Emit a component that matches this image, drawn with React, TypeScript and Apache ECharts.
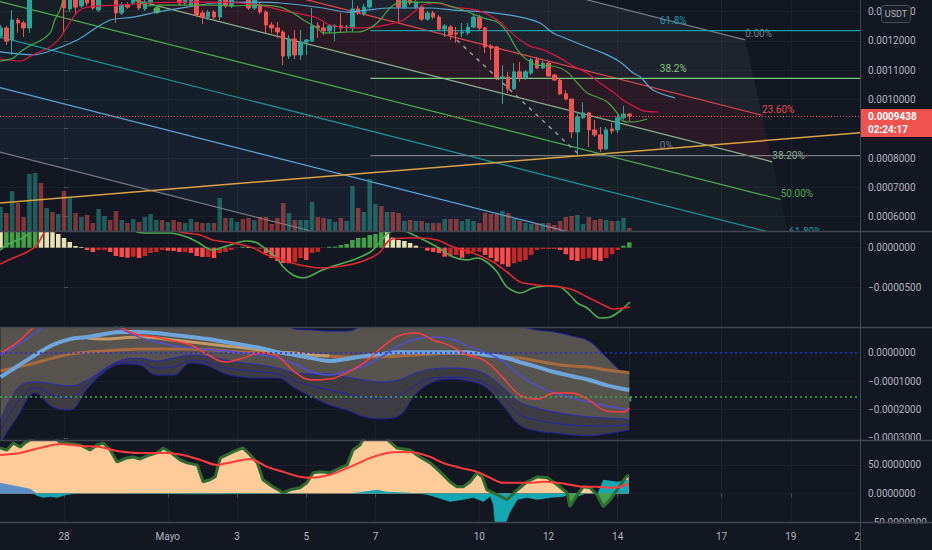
import React, { useEffect, useRef } from 'react';
import * as echarts from 'echarts';

const BG = '#131722';
const TEXT = '#b2b5be';
const GRID_LINE = '#1c202b';
const SEP = '#434651';
const FONT = 'Roboto';

// ---- time axis: 4h bars, index 0 = 28 Apr 00:00 ----
const FIRST_BAR = -11;
const X_MIN = -11.1;
const X_MAX = 138;
const DATE_TICKS = [0, 18, 30, 42, 54, 72, 84, 96, 114, 126, 138];
const DATE_LABELS = ['28', 'Mayo', '3', '5', '7', '10', '12', '14', '17', '19', '21'];

// ---- main pane: prices in 1e-6 USDT ----
const PRICE_TICKS = [600, 700, 800, 900, 1000, 1100, 1200, 1300];
// 0.0009000 sits under the last-price badge and is not visible
const PRICE_LABELS = [600, 700, 800, 1000, 1100, 1200, 1300];
const open = [1216,1244,1203,1271,1261,1244,1380,1421,1401,1442,1428,
  1442,1309,1373,1319,1356,1346,1305,1353,1373,1360,
  1295,1322,1329,1350,1309,1332,1367,1380,1360,1373,
  1353,1329,1322,1350,1295,1281,1298,1281,1353,1319,
  1346,1367,1353,1312,1322,1298,1254,1244,1230,1148,
  1206,1152,1196,1199,1251,1244,1234,1247,1251,1245,
  1244,1309,1292,1315,1356,1380,1360,1373,1353,1315,
  1346,1315,1315,1274,1295,1281,1240,1247,1227,1227,
  1227,1247,1281,1244,1182,1179,1073,1077,1036,1094,
  1073,1090,1135,1107,1124,1083,1066,1019,1001,889,
  937,954,896,879,831,899,896,937,950];
const close = [1244,1199,1271,1261,1244,1373,1421,1401,1442,1428,1455,
  1312,1391,1315,1367,1329,1312,1353,1373,1360,1295,
  1322,1315,1350,1312,1332,1367,1380,1360,1373,1353,
  1329,1346,1350,1288,1281,1298,1281,1346,1319,1346,
  1367,1353,1312,1339,1298,1254,1244,1230,1148,1206,
  1152,1196,1203,1251,1244,1234,1251,1251,1244,1247,
  1309,1295,1315,1356,1380,1360,1373,1353,1315,1339,
  1329,1332,1274,1295,1281,1240,1251,1220,1223,1230,
  1247,1281,1244,1179,1175,1073,1077,1036,1094,1073,
  1094,1135,1107,1124,1080,1066,1019,1001,889,940,
  954,896,879,831,896,892,937,950,943.8];
const low = [1210,1186,1152,1227,1213,1227,1350,1387,1380,1408,1408,
  1230,1298,1288,1312,1319,1305,1298,1343,1346,1261,
  1288,1309,1322,1305,1302,1326,1353,1346,1346,1343,
  1322,1322,1319,1281,1257,1271,1274,1271,1312,1312,
  1343,1343,1305,1305,1292,1227,1227,1210,1117,1138,
  1138,1135,1152,1196,1210,1220,1227,1199,1227,1230,
  1230,1288,1285,1309,1346,1346,1346,1343,1261,1309,
  1322,1309,1268,1268,1274,1234,1213,1203,1193,1213,
  1220,1244,1237,1158,1135,1066,984,1022,1032,1060,
  1066,1083,1104,1104,1077,1063,1015,998,868,810,
  933,838,872,821,827,882,885,930,926];
const high = [1254,1251,1305,1278,1268,1391,1435,1442,1459,1469,1476,
  1462,1408,1391,1380,1367,1356,1367,1387,1387,1367,
  1332,1332,1360,1356,1339,1373,1394,1391,1387,1384,
  1360,1356,1360,1356,1305,1305,1305,1356,1360,1356,
  1380,1380,1360,1350,1332,1305,1264,1264,1237,1220,
  1237,1237,1206,1312,1264,1261,1257,1257,1295,1254,
  1339,1319,1326,1367,1394,1387,1387,1384,1360,1350,
  1353,1339,1322,1302,1302,1288,1257,1254,1247,1261,
  1261,1288,1288,1247,1189,1182,1117,1094,1124,1128,
  1100,1141,1145,1131,1128,1087,1070,1032,1001,957,
  991,957,930,906,906,920,947,978,954];
const volume = [24,18,40,28,14,57,58,48,23,19,17,
  40,34,18,14,16,8,22,15,11,20,
  11,8,12,9,14,17,11,11,9,11,
  9,8,12,9,8,8,8,33,13,13,
  9,12,13,11,14,14,7,13,28,18,
  11,11,11,29,14,13,12,9,13,10,
  45,23,19,52,27,25,19,19,18,10,
  11,10,10,8,8,8,12,12,12,10,
  12,10,8,18,17,17,20,18,12,10,
  8,7,8,8,8,6,10,14,15,16,
  7,14,11,12,11,10,10,13,3];
const VOLUME_MAX = 231;
const LAST_PRICE = close[close.length - 1];
const COUNTDOWN = '02:24:17';
const QUOTE = 'USDT';

// moving averages [bar, price]
const MA_GREEN = [[-11.1,1131],[-8.8,1141],[-7.6,1162],[-5.4,1189],[-4.2,1199],[-2.4,1227],[-1.6,1271],[-0.7,1305],[0.2,1356],[2.8,1408],[6.2,1414],[9.7,1380],[12.3,1339],[14.9,1319],[16.6,1322],[21.0,1322],[26.2,1322],[28.8,1319],[34.0,1322],[37.5,1315],[39.7,1295],[42.1,1264],[43.9,1244],[44.9,1227],[46.6,1227],[49.1,1230],[50.8,1230],[53.1,1244],[54.8,1271],[56.5,1312],[58.3,1332],[61.7,1332],[65.2,1329],[67.5,1315],[69.2,1305],[72.7,1278],[75.1,1264],[76.8,1230],[78.6,1169],[79.9,1141],[82.0,1117],[84.8,1114],[87.2,1094],[89.0,1056],[90.7,1022],[92.4,1008],[94.2,991],[95.9,954],[96.9,926],[98.7,923],[101.1,933]];
const MA_RED = [[-11.1,1138],[-7.6,1131],[-5.4,1152],[-2.4,1179],[-0.7,1210],[0.5,1247],[2.3,1298],[4.0,1315],[6.2,1319],[9.2,1322],[14.9,1329],[20.1,1332],[25.3,1332],[30.5,1329],[34.0,1322],[37.5,1305],[40.9,1292],[43.9,1278],[46.1,1254],[50.8,1244],[53.6,1247],[56.5,1257],[58.8,1271],[60.5,1295],[62.2,1322],[64.3,1329],[67.5,1315],[71.6,1305],[75.1,1271],[78.6,1210],[80.8,1182],[83.1,1169],[86.0,1141],[88.3,1114],[90.7,1090],[92.9,1056],[95.2,1025],[96.9,998],[99.0,974],[100.7,960],[103.0,957]];
const MA_BLUE = [[-11.1,1162],[-5.4,1152],[-1.9,1169],[2.3,1203],[5.0,1237],[8.0,1271],[12.0,1281],[16.1,1298],[21.3,1315],[26.2,1329],[32.3,1332],[37.5,1329],[44.9,1312],[49.1,1298],[52.5,1305],[56.5,1312],[60.5,1312],[63.5,1312],[67.5,1305],[73.3,1298],[79.1,1281],[82.5,1261],[84.8,1227],[87.7,1203],[90.7,1179],[93.5,1158],[96.4,1128],[98.7,1090],[99.9,1077],[102.1,1032],[105.9,1005]];
const SIGNAL_DOT = [[16.1, 1305]];

// drawings
const TREND_ORANGE = [[-12, 645], [138, 886]];
const TREND_DASHED = [[68.1, 1203], [89.0, 817]];
const CH_LEVELS = [0, 0.236, 0.382, 0.5, 0.618, 0.786, 1];
const CH_LABELS = ['0.00%', '23.60%', '38.20%', '50.00%', '61.80%', '78.60%', '100.00%'];
const CH_COLORS = ['#787b86', '#e5474f', '#8fb48f', '#4caf50', '#1a9ba5', '#5aa9e0', '#787b86'];
const CH_FILLS = ['rgba(120,123,134,0.12)', 'rgba(242,54,69,0.10)', 'rgba(129,199,132,0.05)', 'rgba(76,175,80,0.06)', 'rgba(26,155,165,0.07)', 'rgba(100,150,230,0.07)'];
const CH_TOP = [[-12, 1852.5], [118.1, 1203]];
const CH_BOTTOM = [[-12, 824.5], [130.4, 113.9]];
const FIB_LEVELS = [0, 0.382, 0.618];
const FIB_LABELS = ['0%', '38.2%', '61.8%'];
const FIB_COLORS = ['#787b86', '#81c784', '#1a9ba5'];
const FIB_LOW = 808;
const FIB_HIGH = 1499;
const FIB_START = 53.1;
const FIB_END = 138;
const FIB_LABEL_AT = 103.3;

// ---- MACD pane: 1e-6 ----
const MACD_TICKS = [0, -50];
const MACD_HIST = [21,22,24,26,28,30,31,29,26,23,17.1,
  12.1,7.1,2.1,0.9,-2.9,-5.4,-2.9,-2.9,-5.4,-10.4,
  -11.6,-12.5,-11.25,-12.9,-10.4,-6.6,-5.4,-2.9,-3.75,-4.1,
  -5.4,-5.4,-6.6,-10.4,-11.6,-11.6,-12.9,-6.6,-5.4,-2.9,
  -0.4,1.25,0.9,-0.4,-1.0,-6.6,-12.9,-16.6,-19.1,-19.5,
  -17.9,-12.9,-15.4,-6.6,-5.4,-0.4,1.25,1.4,3.4,4.6,
  9.6,12.1,12.5,15.9,17.1,21,20,12.5,9.6,8.4,
  5.9,2.5,-0.4,-3.75,-5.4,-6.6,-11.25,-11.25,-9.1,-12.5,
  -7.9,-5,-5,-9.1,-12.9,-17.5,-20.75,-23.75,-19.5,-17.5,
  -15.4,-9.1,-2.9,-1.6,-1.6,-1.6,-2.9,-8.25,-15.4,-16.6,
  -14.1,-13.25,-15.4,-16.6,-12.9,-8.25,-2.9,2.5,6.75];
const MACD_LINE = [[-11.1,-2.9],[-9.9,3.4],[-8.1,9.6],[-6.8,13.4],[-5.9,19.6],[-5.0,24.6],[-2.4,34.6],[1.0,40.9],[4.5,42.1],[8.0,37.1],[10.6,27.1],[12.7,19.6],[14.9,18.4],[18.4,18.4],[21.3,13.4],[23.1,7.1],[24.8,-0.4],[25.8,-2.9],[27.1,-0.4],[28.8,3.4],[30.5,7.1],[31.7,8.4],[33.5,5.9],[35.2,-2.9],[36.9,-12.9],[38.0,-24.1],[39.7,-34.1],[41.4,-37.9],[42.7,-35.4],[44.4,-29.1],[47.3,-21.6],[50.1,-15.4],[53.1,-5.4],[54.8,7.1],[56.0,17.1],[57.7,22.1],[59.1,20.9],[61.7,12.1],[64.7,0.9],[67.5,-11.6],[69.9,-15.4],[71.6,-12.9],[73.3,-17.9],[75.1,-30.4],[76.8,-49.1],[79.1,-56.6],[81.3,-50.4],[83.8,-47.9],[86.0,-49.1],[87.7,-59.1],[89.0,-69.1],[90.7,-75.4],[92.9,-87.9],[94.7,-86.6],[96.4,-79.1],[98.1,-67.9]];
const MACD_SIGNAL = [[-11.1,-20.4],[-8.8,-12.9],[-6.4,-5.4],[-4.7,3.4],[-3.3,19.6],[-0.7,32.1],[2.8,42.1],[6.2,47.1],[9.7,44.6],[13.2,37.1],[16.6,28.4],[20.1,19.6],[23.6,15.9],[25.8,9.6],[29.3,5.9],[32.8,-0.4],[35.2,-9.1],[38.0,-15.4],[40.9,-21.6],[44.4,-25.4],[50.1,-20.4],[53.1,-12.9],[54.8,-5.4],[56.5,9.6],[59.5,12.1],[61.7,12.1],[64.7,9.6],[67.5,0.9],[70.9,-6.6],[74.4,-17.9],[76.8,-30.4],[79.1,-42.9],[82.0,-46.6],[86.0,-49.1],[88.3,-52.9],[90.7,-61.6],[94.2,-74.1],[95.2,-76.6],[98.1,-74.1]];

// ---- oscillator bands pane: 1e-5 ----
const OSC_TICKS = [0, -10, -20, -30];
const OSC_IDX = [-11,-8,-5,-2,1,4,7,10,13,16,19,22,25,28,31,34,37,40,43,46,49,52,55,58,61,64,67,70,73,76,79,82,85,88,91,94,97,98];
const OSC_LOWER_OUTER = [-31.5,-22.3,-14.2,-19.1,-20.2,-12.8,-6.8,-4.0,-4.3,-7.9,-7.9,-3.6,-4.7,-7.5,-8.6,-8.9,-8.9,-12.4,-15.6,-18.4,-20.2,-22.6,-23.3,-22.3,-14.5,-10.3,-9.3,-10.0,-12.1,-18.4,-25.5,-27.6,-28.3,-29.0,-29.3,-28.6,-27.6,-27.2];
const OSC_LOWER_MID = [-27.2,-17.4,-12.4,-14.9,-15.9,-11.4,-6.1,-3.3,-3.3,-5.4,-5.0,-2.6,-3.3,-5.4,-6.1,-6.8,-7.5,-10.0,-11.7,-13.1,-14.5,-15.6,-15.9,-15.2,-11.4,-8.9,-8.6,-8.9,-10.7,-15.2,-21.9,-23.7,-24.8,-25.5,-25.8,-25.8,-25.5,-25.5];
const OSC_LOWER_INNER = [-23.7,-12.4,-10.3,-11.0,-11.7,-9.6,-5.7,-2.6,-1.9,-2.9,-1.9,-0.8,-1.5,-2.6,-3.6,-4.3,-5.4,-7.1,-7.5,-7.5,-8.6,-9.6,-10.3,-9.6,-7.1,-5.7,-5.4,-5.7,-7.5,-12.1,-17.4,-19.5,-20.9,-21.9,-22.6,-23.0,-23.3,-23.7];
const OSC_UPPER_OUTER = [11.5,11.5,11.5,11.5,11.5,11.5,11.5,11.5,11.5,11.5,11.5,11.5,11.5,11.5,11.5,11.5,11.5,8.3,8.0,7.6,7.6,9.7,11.5,11.5,11.5,11.5,11.5,11.5,11.5,11.5,9.4,8.0,7.3,5.9,4.1,-1.5,-6.8,-7.1];
const OSC_BASIS = [-8.6,-4.7,-0.8,2.7,4.8,5.5,6.6,7.3,7.3,6.9,6.2,5.5,4.8,3.8,2.7,1.7,0.2,-0.8,-1.9,-2.9,-2.2,-1.2,-0.5,0.2,0.2,0.2,0.2,0.2,-0.8,-1.5,-3.3,-5.0,-6.8,-8.2,-9.6,-11.4,-12.8,-13.1];
const OSC_SLOW = [-6.4,-5.0,-3.6,-1.9,-0.5,0.2,0.6,1.0,1.3,1.3,1.3,1.3,1.0,0.6,0.2,0.2,-0.1,-0.5,-0.8,-1.2,-1.5,-1.5,-1.5,-1.2,-0.8,-0.5,-0.1,-0.5,-0.8,-1.5,-1.9,-2.9,-4.0,-4.7,-5.0,-6.1,-6.8,-7.1];
const OSC_FAST = [-0.1,3.8,9.4,13.3,15.0,15.0,13.3,8.7,6.2,5.5,4.1,2.7,-0.8,-3.3,-1.9,-0.1,-1.2,-6.8,-9.6,-9.3,-7.1,-3.6,1.7,5.9,6.9,4.5,2.4,-0.8,-2.9,-8.6,-14.9,-16.3,-14.2,-14.2,-16.7,-20.5,-20.9,-19.5];
const OSC_MIDLINE = [-0.8,2.7,6.9,10.8,12.9,13.3,11.5,8.3,5.5,3.8,2.4,1.7,1.0,0.6,-0.1,-0.8,-1.9,-4.0,-6.8,-7.9,-6.4,-4.7,-1.5,2.4,4.8,5.5,4.8,2.4,0.2,-2.9,-7.9,-11.7,-14.2,-15.9,-17.4,-18.8,-19.8,-20.2];
const TAN_IDX = [4,7,10,13,16,19,22,25,28,31,34,37,40,43,46];
const OSC_TAN = [5.2,4.8,5.2,5.5,5.2,4.5,3.8,3.1,2.4,1.7,1.0,0.2,-0.1,-0.8,-1.2];
const OSC_BARS = [0.2,2.0,5.2,6.9,7.3,10.8,12.2,13.6,15.0,15.7,16.4,
  16.4,15.7,14.3,12.2,9.7,8.0,8.0,8.0,8.0,8.3,
  8.3,4.5,3.8,3.8,3.4,3.8,3.8,4.1,3.8,3.4,
  3.4,1.7,1.0,-0.1,-1.9,-3.3,-4.3,-4.3,-4.3,-2.9,
  -1.5,-0.1,-0.1,-0.8,-0.8,-0.1,-2.2,-4.3,-6.4,-8.9,
  -10.0,-10.7,-12.1,-11.0,-9.3,-8.2,-6.8,-5.4,-5.0,-4.3,
  -2.9,-1.9,-0.5,1.3,3.4,5.2,7.3,8.0,7.6,6.9,
  5.5,4.1,3.4,3.1,2.0,1.7,0.6,-1.2,-2.2,-2.9,
  -2.9,-3.3,-3.3,-3.6,-4.3,-6.1,-9.3,-13.1,-15.9,-16.7,
  -17.4,-16.7,-15.6,-13.8,-12.8,-12.4,-12.4,-13.8,-15.9,-18.4,
  -19.5,-20.9,-21.9,-21.9,-21.6,-21.2,-20.9,-19.1,-16.3];
const OSC_ZERO = 0;
const OSC_GREEN_LEVEL = -15.6;

// ---- momentum pane ----
const MOM_TICKS = [50, 0, -50];
const MOM_MAIN = [[-11.1,79.6],[-9.9,76.1],[-8.8,88.3],[-7.6,81.3],[-6.8,88.3],[-5.9,93.5],[-4.2,102.3],[-2.4,104],[-0.7,90.1],[0.5,88.3],[2.8,84.8],[4.5,76.1],[5.7,84.8],[6.8,88.3],[8.0,76.1],[9.2,55.2],[10.9,62.2],[12.0,63.9],[13.2,60.4],[14.4,65.7],[16.1,70.9],[17.2,79.6],[18.4,72.6],[20.1,58.7],[21.3,53.5],[23.1,50.0],[24.1,20.4],[25.3,23.9],[26.2,29.1],[27.1,62.2],[29.3,72.6],[31.0,79.6],[32.3,67.4],[33.5,53.5],[34.5,23.9],[36.2,11.7],[38.0,1.2],[39.2,6.4],[40.9,9.9],[42.1,18.6],[43.2,36.1],[44.4,37.8],[46.1,36.1],[47.9,44.8],[49.1,50.0],[50.1,76.1],[51.3,84.8],[52.2,100.5],[53.9,105.7],[55.7,100.5],[56.5,90.1],[57.7,79.6],[60.0,76.1],[61.7,63.9],[63.5,53.5],[65.2,37.8],[66.9,20.4],[68.1,11.7],[69.2,11.7],[70.4,20.4],[71.6,36.1],[72.5,29.1],[73.3,6.4],[75.1,-2.3],[76.8,-11.0],[78.6,6.4],[80.3,20.4],[82.0,29.1],[83.8,27.3],[85.5,15.2],[87.2,1.2],[87.7,-23.2],[89.0,-2.3],[90.0,11.7],[91.2,9.9],[92.4,-2.3],[93.5,-23.2],[94.7,-11.0],[95.9,6.4],[97.3,27.3],[97.9,32.6]];
const MOM_TEAL = [[-5.4,0],[-4.7,-4.0],[-3.6,-7.5],[-2.4,-5.7],[-1.2,-7.5],[0.5,-2.3],[2.3,-0.5],[4.0,-0.5],[9.7,-0.5],[23.6,-1.4],[40.9,-0.5],[49.6,0],[54.3,6.4],[56.0,3.0],[60.0,1.2],[63.0,-2.3],[64.7,-7.5],[66.9,-14.5],[69.2,-11.0],[70.9,-7.5],[72.7,-14.5],[73.9,-5.7],[74.4,-19.7],[74.7,-54.5],[75.6,-54.5],[76.5,-54.5],[77.3,-33.6],[78.6,-11.0],[80.3,-7.5],[82.0,-11.0],[84.3,-7.5],[86.5,-5.7],[87.7,-2.3],[89.0,-5.7],[90.7,1.2],[92.4,-2.3],[93.5,23.9],[95.9,20.4],[97.6,23.9],[97.9,23.9]];
const MOM_BLUE = [[-11.1,18.6],[-9.4,15.2],[-7.6,11.7],[-5.9,8.2],[-4.7,0]];
const MOM_DIP_A = [[87.25,0],[87.7,-23.2],[89.0,-2.3],[89.2,0]];
const MOM_DIP_B = [[92.3,0],[92.4,-2.3],[93.5,-23.2],[94.7,-11.0],[95.5,0]];
const MOM_SIGNAL = [[-11.1,67.4],[-7.6,70.9],[-4.2,79.6],[-0.7,86.6],[2.8,83.1],[6.2,81.3],[9.2,74.4],[13.2,70.9],[17.9,70.9],[21.3,65.7],[23.6,58.7],[26.5,50.0],[29.3,55.2],[32.3,60.4],[35.2,46.5],[38.0,37.8],[40.9,29.1],[42.7,27.3],[46.1,32.6],[49.6,46.5],[53.1,62.2],[56.0,70.9],[58.8,72.6],[61.2,70.9],[63.5,63.9],[65.7,53.5],[68.7,44.8],[71.6,37.8],[73.9,27.3],[76.1,18.6],[78.6,18.6],[80.8,18.6],[83.1,20.4],[85.5,18.6],[87.7,15.2],[90.0,11.7],[92.4,11.7],[94.7,9.9],[96.4,11.7],[97.9,16.9]];

const fmtScaled = (v: number, scale: number) => {
  const s = (v * scale).toFixed(7);
  return s.charAt(0) === '-' ? '\u2212' + s.slice(1) : s;
};

const lerp = (a: number, b: number, t: number) => a + (b - a) * t;
const chStart = (lv: number) => [lerp(CH_TOP[0][0], CH_BOTTOM[0][0], lv), lerp(CH_TOP[0][1], CH_BOTTOM[0][1], lv)];
const chEnd = (lv: number) => [lerp(CH_TOP[1][0], CH_BOTTOM[1][0], lv), lerp(CH_TOP[1][1], CH_BOTTOM[1][1], lv)];

function xAxis(gi: number, labels: boolean) {
  return {
    type: 'value', gridIndex: gi, min: X_MIN, max: X_MAX,
    axisLine: { show: false },
    axisTick: { show: labels, customValues: DATE_TICKS, length: 4, lineStyle: { color: '#4a4e59' } },
    axisLabel: {
      show: labels, customValues: DATE_TICKS, color: TEXT, fontSize: 10, fontFamily: FONT, margin: 9,
      formatter: (v: number) => { const k = DATE_TICKS.indexOf(Math.round(v)); return k >= 0 ? DATE_LABELS[k] : ''; },
    },
    splitLine: { show: true, lineStyle: { color: GRID_LINE, width: 1 } },
  };
}

function yAxis(gi: number, min: number, max: number, ticks: number[], scale: number, labelValues?: number[]) {
  return {
    type: 'value', gridIndex: gi, position: 'right', min, max,
    axisLine: { show: false },
    axisTick: { show: true, customValues: ticks, length: 4, lineStyle: { color: '#4a4e59' } },
    axisLabel: { customValues: labelValues || ticks, color: TEXT, fontSize: 10, fontFamily: FONT, margin: 8, formatter: (v: number) => fmtScaled(v, scale) },
    splitLine: { show: true, lineStyle: { color: GRID_LINE, width: 1 } },
  };
}

function lineSeries(xi: number, yi: number, data: any[], color: string, width: number, extra: any = {}) {
  return {
    type: 'line', xAxisIndex: xi, yAxisIndex: yi, data, showSymbol: false, silent: true,
    lineStyle: { color, width }, ...extra,
  };
}

function buildOption() {
  const bars = open.map((o, k) => [FIRST_BAR + k, o, close[k], low[k], high[k]]);
  const vols = volume.map((v, k) => ({
    value: [FIRST_BAR + k, v],
    itemStyle: { color: close[k] >= open[k] ? 'rgba(38,166,154,0.5)' : 'rgba(239,83,80,0.5)' },
  }));
  const hist = MACD_HIST.map((v, k) => {
    const prev = k > 0 ? MACD_HIST[k - 1] : v + 1;
    let c;
    if (v >= 0) c = v >= prev ? '#43a047' : '#e6e2b4';
    else c = v < prev ? '#ff4a4a' : '#c62828';
    return { value: [FIRST_BAR + k, v], itemStyle: { color: c } };
  });
  const oscBars = OSC_BARS.map((v, k) => {
    const prev = k > 0 ? OSC_BARS[k - 1] : v;
    return { value: [FIRST_BAR + k, v], itemStyle: { color: v >= prev ? '#46c35c' : '#ff4545' } };
  });
  const osc = (arr: number[]) => OSC_IDX.map((i, k) => [i, arr[k]]);

  const channelSeries = {
    type: 'custom', xAxisIndex: 0, yAxisIndex: 0, clip: true, silent: true,
    data: CH_LEVELS.map((lv, k) => [k, lv]),
    renderItem: (params: any, api: any) => {
      const k = params.dataIndex;
      const lv = CH_LEVELS[k];
      const S = api.coord(chStart(lv));
      const E = api.coord(chEnd(lv));
      const children: any[] = [];
      if (k < CH_LEVELS.length - 1) {
        const lv2 = CH_LEVELS[k + 1];
        const S2 = api.coord(chStart(lv2));
        const E2 = api.coord(chEnd(lv2));
        children.push({ type: 'polygon', shape: { points: [S, E, E2, S2] }, style: { fill: CH_FILLS[k] } });
      }
      children.push({ type: 'line', shape: { x1: S[0], y1: S[1], x2: E[0], y2: E[1] }, style: { stroke: CH_COLORS[k], lineWidth: 1.2 } });
      children.push({ type: 'text', x: E[0], y: E[1] - 6, style: { text: CH_LABELS[k], fill: CH_COLORS[k], font: `10px ${FONT}`, align: 'left', verticalAlign: 'middle' } });
      return { type: 'group', children };
    },
  };

  const fibSeries = {
    type: 'custom', xAxisIndex: 0, yAxisIndex: 0, clip: true, silent: true,
    data: FIB_LEVELS.map((lv, k) => [k, lv]),
    renderItem: (params: any, api: any) => {
      const k = params.dataIndex;
      const p = FIB_LOW + FIB_LEVELS[k] * (FIB_HIGH - FIB_LOW);
      const A = api.coord([FIB_START, p]);
      const B = api.coord([FIB_END, p]);
      const L = api.coord([FIB_LABEL_AT, p]);
      return {
        type: 'group', children: [
          { type: 'line', shape: { x1: A[0], y1: A[1], x2: B[0], y2: B[1] }, style: { stroke: FIB_COLORS[k], lineWidth: 1.2 } },
          { type: 'text', x: L[0], y: L[1] - 10, style: { text: FIB_LABELS[k], fill: FIB_COLORS[k], font: `10px ${FONT}`, align: 'left', verticalAlign: 'middle' } },
        ],
      };
    },
  };

  return {
    animation: false,
    backgroundColor: BG,
    textStyle: { fontFamily: FONT },
    grid: [
      { left: 0, right: 72, top: 0, height: 231, outerBoundsMode: 'none' },
      { left: 0, right: 72, top: 232, height: 95, outerBoundsMode: 'none' },
      { left: 0, right: 72, top: 328, height: 112, outerBoundsMode: 'none' },
      { left: 0, right: 72, top: 441, height: 81, outerBoundsMode: 'none' },
    ],
    xAxis: [xAxis(0, false), xAxis(1, false), xAxis(2, false), xAxis(3, true)],
    yAxis: [
      yAxis(0, 550.9, 1339.3, PRICE_TICKS, 1e-6, PRICE_LABELS),
      { type: 'value', gridIndex: 0, min: 0, max: VOLUME_MAX, show: false, splitLine: { show: false } },
      yAxis(1, -99.1, 19.6, MACD_TICKS, 1e-6),
      yAxis(2, -30.74, 8.7, OSC_TICKS, 1e-5),
      yAxis(3, -50, 91.8, MOM_TICKS, 1),
    ],
    series: [
      channelSeries,
      fibSeries,
      { type: 'bar', xAxisIndex: 0, yAxisIndex: 1, data: vols, barWidth: 4.5, silent: true },
      lineSeries(0, 0, TREND_ORANGE, '#d9a441', 1.5),
      lineSeries(0, 0, TREND_DASHED, '#9598a1', 1.5, { lineStyle: { color: '#9598a1', width: 1.5, type: [4, 5] } }),
      lineSeries(0, 0, MA_BLUE, '#53a9d3', 1.2, { smooth: 0.3 }),
      lineSeries(0, 0, MA_RED, '#dc1640', 1.2, { smooth: 0.3 }),
      lineSeries(0, 0, MA_GREEN, '#45a846', 1.2, { smooth: 0.3 }),
      {
        type: 'candlestick', xAxisIndex: 0, yAxisIndex: 0, data: bars, barWidth: 4, silent: true,
        itemStyle: { color: '#26a69a', color0: '#ef5350', borderColor: '#26a69a', borderColor0: '#ef5350', borderWidth: 1 },
        markLine: {
          silent: true, symbol: 'none', label: { show: false },
          lineStyle: { color: '#ef5350', type: [1, 2], width: 1 },
          data: [{ yAxis: LAST_PRICE }],
        },
      },
      { type: 'scatter', xAxisIndex: 0, yAxisIndex: 0, data: SIGNAL_DOT, symbolSize: 7, itemStyle: { color: '#5bd45b' }, silent: true },

      { type: 'bar', xAxisIndex: 1, yAxisIndex: 2, data: hist, barWidth: 4.5, silent: true },
      lineSeries(1, 2, MACD_LINE, '#4caf50', 1.6, { smooth: 0.3 }),
      lineSeries(1, 2, MACD_SIGNAL, '#e0282e', 1.6, { smooth: 0.3 }),

      lineSeries(2, 3, osc(OSC_LOWER_OUTER), '#1f1fa6', 1, { smooth: 0.4, areaStyle: { origin: 'end', color: '#3c3c42', opacity: 1 } }),
      lineSeries(2, 3, osc(OSC_LOWER_INNER), '#2a2ab8', 1, { smooth: 0.4, areaStyle: { origin: 'end', color: '#57534e', opacity: 1 } }),
      lineSeries(2, 3, osc(OSC_UPPER_OUTER), '#1f1fa6', 1, { smooth: 0.4, areaStyle: { origin: 'end', color: BG, opacity: 1 } }),
      lineSeries(2, 3, osc(OSC_LOWER_MID), '#2424ad', 1, { smooth: 0.4 }),
      lineSeries(2, 3, osc(OSC_SLOW), '#a86a3c', 3, { smooth: 0.4 }),
      lineSeries(2, 3, TAN_IDX.map((i, k) => [i, OSC_TAN[k]]), '#c39a63', 3, { smooth: 0.4 }),
      lineSeries(2, 3, osc(OSC_BASIS), '#6ea6dc', 4, { smooth: 0.4 }),
      lineSeries(2, 3, osc(OSC_MIDLINE), '#4f4fd6', 1.5, { smooth: 0.4 }),
      lineSeries(2, 3, osc(OSC_FAST), '#ff3d3d', 1.5, { smooth: 0.4 }),
      {
        type: 'scatter', xAxisIndex: 2, yAxisIndex: 3, data: oscBars, symbol: 'rect', symbolSize: [4, 5], silent: true,
        markLine: {
          silent: true, symbol: 'none', label: { show: false },
          data: [
            { yAxis: OSC_ZERO, lineStyle: { color: '#2b2bd0', type: [2, 3], width: 1.5 } },
            { yAxis: OSC_GREEN_LEVEL, lineStyle: { color: '#3fae49', type: [2, 3], width: 1.5 } },
          ],
        },
      },

      lineSeries(3, 4, MOM_MAIN, '#ffcc99', 0, { areaStyle: { color: '#ffcc99', opacity: 1 } }),
      lineSeries(3, 4, MOM_BLUE, '#5b8fc7', 0, { areaStyle: { color: '#5b8fc7', opacity: 1 } }),
      lineSeries(3, 4, MOM_TEAL, '#14a7b4', 0, { areaStyle: { color: '#14a7b4', opacity: 1 } }),
      lineSeries(3, 4, MOM_DIP_A, '#43a047', 0, { areaStyle: { color: '#43a047', opacity: 1 } }),
      lineSeries(3, 4, MOM_DIP_B, '#43a047', 0, { areaStyle: { color: '#43a047', opacity: 1 } }),
      lineSeries(3, 4, MOM_MAIN, '#2e6b30', 3),
      lineSeries(3, 4, MOM_SIGNAL, '#ff3b3b', 2, { smooth: 0.3 }),
    ],
  };
}

function buildGraphics(priceY: number) {
  const Z = 100;
  const hline = (y: number) => ({ type: 'line', z: Z, silent: true, shape: { x1: 0, y1: y, x2: 932, y2: y }, style: { stroke: SEP, lineWidth: 1.5 } });
  return [
    { type: 'rect', z: Z, silent: true, shape: { x: 861, y: 523.5, width: 71, height: 27 }, style: { fill: BG } },
    hline(231.5), hline(327.5), hline(440.5), hline(522.5),
    { type: 'line', z: Z, silent: true, shape: { x1: 860.5, y1: 0, x2: 860.5, y2: 550 }, style: { stroke: SEP, lineWidth: 1 } },
    // quote currency badge
    { type: 'rect', z: Z + 1, silent: true, shape: { x: 881.5, y: 5.5, width: 29, height: 17, r: 3 }, style: { fill: '#1a1e29', stroke: '#4a4e59', lineWidth: 1 } },
    { type: 'text', z: Z + 2, silent: true, x: 896, y: 14, style: { text: QUOTE, fill: TEXT, font: `9px ${FONT}`, align: 'center', verticalAlign: 'middle' } },
    // last price badge
    { type: 'rect', z: Z + 1, silent: true, shape: { x: 861, y: priceY - 7, width: 71, height: 28 }, style: { fill: '#ef5350' } },
    { type: 'text', z: Z + 2, silent: true, x: 868, y: priceY + 0.5, style: { text: fmtScaled(LAST_PRICE, 1e-6), fill: '#ffffff', font: `bold 10px ${FONT}`, align: 'left', verticalAlign: 'middle' } },
    { type: 'text', z: Z + 2, silent: true, x: 868, y: priceY + 13.5, style: { text: COUNTDOWN, fill: '#ffffff', font: `bold 10px ${FONT}`, align: 'left', verticalAlign: 'middle' } },
  ];
}

export default function App() {
  const ref = useRef<HTMLDivElement>(null);
  useEffect(() => {
    document.body.style.margin = '0';
    document.body.style.background = BG;
    const chart = echarts.init(ref.current as HTMLDivElement, null, { renderer: 'svg' });
    chart.setOption(buildOption() as any);
    const y = chart.convertToPixel({ yAxisIndex: 0 } as any, LAST_PRICE) as unknown as number;
    chart.setOption({ graphic: buildGraphics(y) } as any);
    return () => chart.dispose();
  }, []);
  return <div ref={ref} style={{ position: 'fixed', left: 0, top: 0, width: 932, height: 550, background: BG }} />;
}
